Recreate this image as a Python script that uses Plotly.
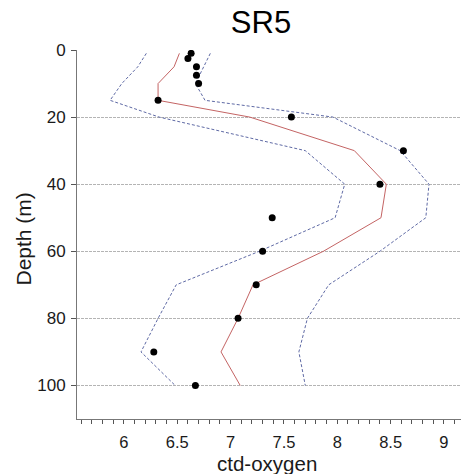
import plotly.graph_objects as go

# Observations
obs_depth = [1, 2.5, 5, 7.5, 10, 15, 20, 30, 40, 50, 60, 70, 80, 90, 100]
obs_oxygen = [6.63, 6.60, 6.68, 6.68, 6.70, 6.32, 7.57, 8.62, 8.40, 7.39, 7.30, 7.24, 7.07, 6.28, 6.67]

# Model profile and envelope
line_depth = [1, 5, 10, 15, 20, 30, 40, 50, 60, 70, 80, 90, 100]
mean_oxygen = [6.52, 6.47, 6.32, 6.32, 7.18, 8.16, 8.46, 8.41, 7.87, 7.21, 7.07, 6.91, 7.09]
lower_oxygen = [6.21, 6.13, 5.98, 5.87, 6.33, 7.70, 8.07, 7.98, 7.27, 6.49, 6.32, 6.16, 6.48]
upper_oxygen = [6.81, 6.75, 6.67, 6.76, 7.96, 8.59, 8.86, 8.83, 8.40, 7.92, 7.72, 7.64, 7.70]

y_ticks = [0, 20, 40, 60, 80, 100]

FONT = "Liberation Sans, Arial, sans-serif"
DASH_COLOR = "#5f6aa5"
TXT = "#1a1a1a"

# figure fills the whole window (page margin removed below)
W, H = 462, 474
L, T = 77, 50
R = W - 461
B = H - 419
PW, PH = W - L - R, H - T - B
BOTTOM = T + PH


def px_x(win_x):
    return (win_x - L) / PW


def px_y(win_y):
    return (BOTTOM - win_y) / PH


fig = go.Figure()
fig.add_trace(go.Scatter(x=lower_oxygen, y=line_depth, mode="lines",
                         line=dict(color=DASH_COLOR, width=1, dash="3px,2px"),
                         showlegend=False, hoverinfo="skip"))
fig.add_trace(go.Scatter(x=upper_oxygen, y=line_depth, mode="lines",
                         line=dict(color=DASH_COLOR, width=1, dash="3px,2px"),
                         showlegend=False, hoverinfo="skip"))
fig.add_trace(go.Scatter(x=mean_oxygen, y=line_depth, mode="lines",
                         line=dict(color="#c46464", width=1),
                         showlegend=False))
fig.add_trace(go.Scatter(x=obs_oxygen, y=obs_depth, mode="markers",
                         marker=dict(color="black", size=7),
                         showlegend=False))

fig.update_layout(
    width=W, height=H,
    margin=dict(l=L, r=R, t=T, b=B, autoexpand=False),
    paper_bgcolor="white", plot_bgcolor="white",
    font=dict(family=FONT, color=TXT),
    title=dict(text="SR5", x=px_x(261), xref="paper", xanchor="center",
               y=1 - 22 / H, yref="container", yanchor="middle",
               font=dict(size=31, family=FONT, color="black")),
    annotations=[
        dict(text="ctd-oxygen", xref="paper", yref="paper",
             x=px_x(267), y=px_y(450),
             xanchor="center", yanchor="top", showarrow=False,
             font=dict(size=20.5, family=FONT, color=TXT)),
        dict(text="Depth (m)", xref="paper", yref="paper",
             x=px_x(23), y=px_y(239.5),
             xanchor="center", yanchor="middle", textangle=-90, showarrow=False,
             font=dict(size=21, family=FONT, color=TXT)),
    ],
)

fig.update_xaxes(
    range=[5.56, 9.16], dtick=0.5, tick0=6,
    ticks="outside", ticklen=4, tickcolor="#555555", tickwidth=1,
    minor=dict(dtick=0.1, tick0=6, ticks="outside", ticklen=4, tickcolor="#555555", showgrid=False),
    showgrid=False, zeroline=False, automargin=False,
    showline=True, linecolor="#777777", linewidth=1,
    tickfont=dict(size=16.5, family=FONT, color=TXT), ticklabelstandoff=4,
)
fig.update_yaxes(
    range=[110, 0], tickvals=y_ticks,
    ticks="outside", ticklen=5, tickcolor="#555555", tickwidth=1,
    showgrid=True, gridcolor="#b4b4b4", griddash="3px,1px", gridwidth=1,
    zeroline=False, automargin=False,
    showline=True, linecolor="#777777", linewidth=1,
    tickfont=dict(size=17, family=FONT, color=TXT), ticklabelstandoff=2,
)

fig.write_html(
    "out.html",
    config={"displayModeBar": False, "staticPlot": True},
    post_script="document.body.style.margin='0';document.body.style.overflow='hidden';",
)
